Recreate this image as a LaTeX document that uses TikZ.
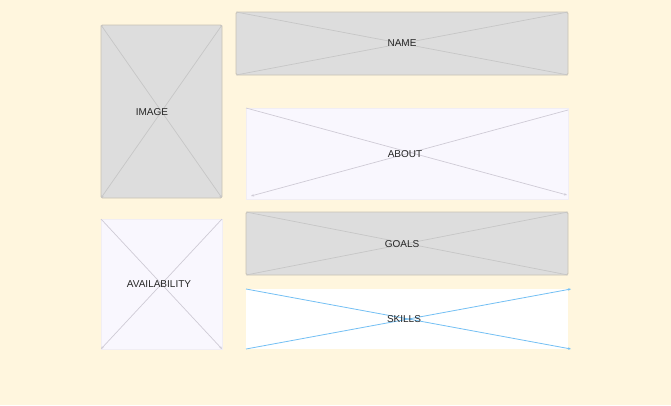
\documentclass[tikz,border=0pt]{standalone}
\usepackage{fontspec}
\setmainfont{Liberation Sans}
\usepackage{tikz}
\usetikzlibrary{arrows.meta}
\usetikzlibrary{backgrounds}

\definecolor{paper}{HTML}{FFF6DE}
\definecolor{boxgray}{HTML}{DDDDDD}
\definecolor{boxlav}{HTML}{F9F7FE}
\definecolor{edgetan}{HTML}{C9C2B4}
\definecolor{edgelav}{HTML}{F1EEF4}
\definecolor{crossgray}{HTML}{C6C6C6}
\definecolor{crosslav}{HTML}{CFCBD6}
\definecolor{crossblue}{HTML}{74C0F4}

\begin{document}
\begin{tikzpicture}[x=1pt,y=-1pt,
	box/.style={rectangle, inner sep=0pt, outer sep=0pt, anchor=north west},
	graybox/.style={box, fill=boxgray, draw=edgetan, line width=0.8pt, rounded corners=1.5pt},
	lavbox/.style={box, fill=boxlav, draw=edgelav, line width=0.5pt},
	whitebox/.style={box, fill=white},
	cross/.style={draw=crossgray, line width=0.7pt},
	lavcross/.style={draw=crosslav, line width=0.7pt},
	bluecross/.style={draw=crossblue, line width=0.8pt},
	tip/.style={-{Stealth[length=3pt,width=2.5pt]}},
	lbl/.style={font=\fontsize{10}{12}\selectfont, text=black!85, inner sep=0pt}]
	\useasboundingbox (0,0) rectangle (671,405);
	\fill[paper] (0,0) rectangle (671,405);
	
	% boxes
	\node[graybox, minimum width=121pt, minimum height=173pt] (image) at (101,25) {};
	\node[graybox, minimum width=332pt, minimum height=63pt] (name) at (236,12) {};
	\node[lavbox, minimum width=322pt, minimum height=91pt] (about) at (246,108) {};
	\node[lavbox, minimum width=121pt, minimum height=130pt] (avail) at (101,219) {};
	\node[graybox, minimum width=322pt, minimum height=63pt] (goals) at (246,212) {};
	\node[whitebox, minimum width=322pt, minimum height=60pt] (skills) at (246,289) {};
	
	% crosses
	\draw[cross, tip] (image.north west) -- (image.south east);
	\draw[cross, tip] (image.north east) -- (image.south west);
	\draw[cross] (name.north west) -- (name.south east);
	\draw[cross] (name.south west) -- (name.north east);
	\draw[lavcross, tip] (about.north west) -- ([shift={(-1,-4)}]about.south east);
	\draw[lavcross, tip] ([shift={(0,2)}]about.north east) -- ([shift={(5,-3)}]about.south west);
	\draw[lavcross, tip] (avail.north west) -- (avail.south east);
	\draw[lavcross, tip] (avail.north east) -- (avail.south west);
	\draw[cross] (goals.north west) -- (goals.south east);
	\draw[cross] (goals.south west) -- (goals.north east);
	\draw[bluecross, tip] (skills.north west) -- ([shift={(3,0)}]skills.south east);
	\draw[bluecross, tip] (skills.south west) -- ([shift={(3,0)}]skills.north east);
	
	% labels
	\node[lbl] (imagetext) at (152,112) {IMAGE};
	\node[lbl] (nametext) at (402,43) {NAME};
	\node[lbl] (abouttext) at (405,154) {ABOUT};
	\node[lbl] (availtext) at (159,284) {AVAILABILITY};
	\node[lbl] (goalstext) at (402,244) {GOALS};
	\node[lbl] (skillstext) at (404,319) {SKILLS};
\end{tikzpicture}
\end{document}
